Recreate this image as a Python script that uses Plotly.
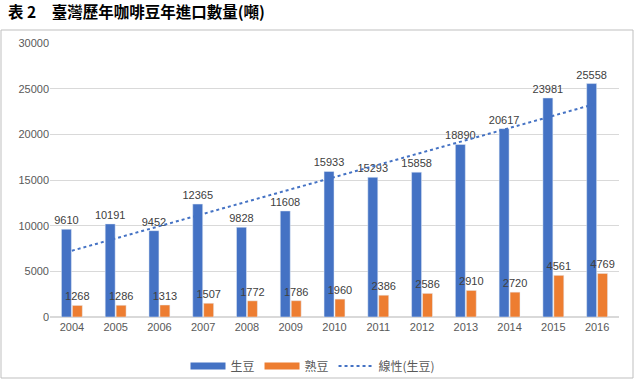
import numpy as np
import plotly.graph_objects as go

years = ["2004", "2005", "2006", "2007", "2008", "2009", "2010", "2011", "2012", "2013", "2014", "2015", "2016"]
green_beans = [9610, 10191, 9452, 12365, 9828, 11608, 15933, 15293, 15858, 18890, 20617, 23981, 25558]
roasted_beans = [1268, 1286, 1313, 1507, 1772, 1786, 1960, 2386, 2586, 2910, 2720, 4561, 4769]
y_ticks = [0, 5000, 10000, 15000, 20000, 25000, 30000]

BLUE = "#4472C4"
ORANGE = "#ED7D31"
TXT = "#595959"
FONT = "Liberation Sans, Noto Sans CJK TC, sans-serif"
CJK = "Noto Sans CJK TC, sans-serif"

idx = np.arange(len(years))
slope, intercept = np.polyfit(idx, green_beans, 1)
trend = slope * idx + intercept

fig = go.Figure()
fig.add_trace(go.Bar(x=years, y=green_beans, name="生豆", marker_color=BLUE,
                     text=[str(v) for v in green_beans], textposition="outside",
                     constraintext="none",
                     textfont=dict(size=11, color="#404040", family=FONT),
                     cliponaxis=False, showlegend=False))
fig.add_trace(go.Bar(x=years, y=roasted_beans, name="熟豆", marker_color=ORANGE,
                     text=[str(v) for v in roasted_beans], textposition="outside",
                     constraintext="none",
                     textfont=dict(size=11, color="#404040", family=FONT),
                     cliponaxis=False, showlegend=False))
fig.add_trace(go.Scatter(x=years, y=trend, mode="lines", name="線性(生豆)",
                         line=dict(color=BLUE, width=2, dash="dot"), showlegend=False))
# legend entries
fig.add_trace(go.Scatter(x=[None], y=[None], mode="lines", name="生豆",
                         line=dict(color=BLUE, width=7)))
fig.add_trace(go.Scatter(x=[None], y=[None], mode="lines", name="熟豆",
                         line=dict(color=ORANGE, width=7)))
fig.add_trace(go.Scatter(x=[None], y=[None], mode="lines", name="線性(生豆)",
                         line=dict(color=BLUE, width=2, dash="dot")))

L, R, T, B = 50, 16, 43, 62
W, H = 635, 379
pw, ph = W - L - R, H - T - B

def px(x):
    return (x - L) / pw

def py(y):
    return (H - B - y) / ph

fig.add_shape(type="rect", xref="paper", yref="paper",
              x0=px(1), x1=px(633), y0=py(378), y1=py(30),
              line=dict(color="#BFBFBF", width=1), fillcolor="rgba(0,0,0,0)", layer="below")

fig.update_layout(
    width=W, height=H,
    margin=dict(l=L, r=R, t=T, b=B, autoexpand=False),
    paper_bgcolor="white", plot_bgcolor="white",
    barmode="group", bargap=0.5, bargroupgap=0.09,
    title=dict(text="<b>表 2　臺灣歷年咖啡豆年進口數量(噸)</b>", x=8 / W, xanchor="left",
               y=1 - 13 / H, yanchor="middle", xref="container", yref="container",
               font=dict(family=CJK, size=15.5, color="black")),
    legend=dict(orientation="h", x=px(313), xanchor="center", y=py(366), yanchor="middle",
                font=dict(family=CJK, size=12, color=TXT), itemwidth=35,
                bgcolor="rgba(0,0,0,0)"),
    font=dict(family=FONT, color=TXT),
)
fig.update_xaxes(type="category", showgrid=False, showline=True, linecolor="#D9D9D9",
                 tickfont=dict(size=11, color=TXT, family=FONT), ticks="", automargin=False)
fig.update_yaxes(range=[0, 30000], tickvals=y_ticks, ticktext=[str(v) for v in y_ticks],
                 showgrid=True, gridcolor="#D9D9D9", zeroline=True, zerolinecolor="#D9D9D9",
                 showline=False, tickfont=dict(size=11, color=TXT, family=FONT), ticks="",
                 ticklen=0, automargin=False)

fig.write_html("out.html", config={"displayModeBar": False},
               post_script="document.body.style.margin='0';document.body.style.overflow='hidden';")
